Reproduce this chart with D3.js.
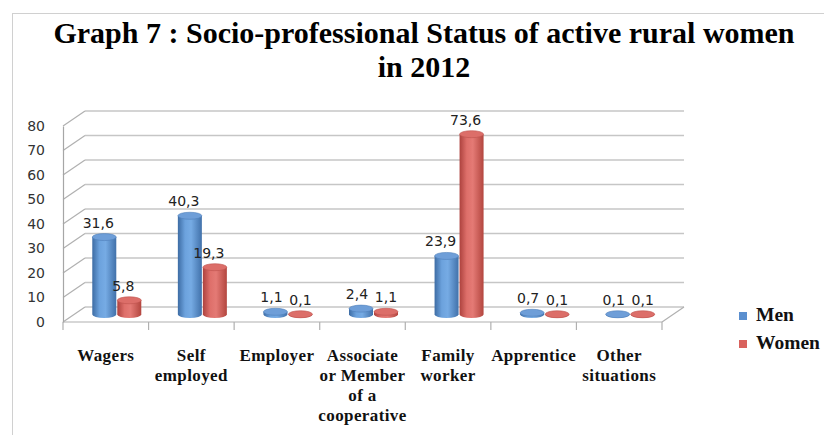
<!DOCTYPE html>
<html>
<head>
<meta charset="utf-8">
<script src="https://cdn.jsdelivr.net/npm/d3@7"></script>
<style>
  body { margin: 0; background: #fff; }
  svg { display: block; }
</style>
</head>
<body>
<svg id="chart" width="824" height="435"></svg>
<script>
(function() {

    // data
    var categories = ["Wagers", "Self\nemployed", "Employer", "Associate\nor Member\nof a\ncooperative",
        "Family\nworker", "Apprentice", "Other\nsituations"];
    var men = [31.6, 40.3, 1.1, 2.4, 23.9, 0.7, 0.1];
    var women = [5.8, 19.3, 0.1, 1.1, 73.6, 0.1, 0.1];
    var seriesNames = ["Men", "Women"];
    var yTicks = [0, 10, 20, 30, 40, 50, 60, 70, 80];

    var svg = d3.select("#chart");

    // outer chart frame
    svg.append("rect")
        .attr("x", 12.5).attr("y", 13.5)
        .attr("width", 830).attr("height", 440)
        .attr("fill", "none")
        .attr("stroke", "#d0d0d0");

    // title
    var title = svg.append("text")
        .attr("text-anchor", "middle")
        .attr("font-family", "Liberation Serif, Times New Roman, serif")
        .attr("font-weight", "bold")
        .attr("font-size", "30px")
        .attr("fill", "#000");
    title.append("tspan").attr("x", 424).attr("y", 43)
        .text("Graph 7 : Socio-professional Status of active rural women");
    title.append("tspan").attr("x", 424).attr("y", 77).text("in 2012");

    // 3d depth offset of back wall
    var dx = 22, dy = -15;

    var x = d3.scaleBand()
        .domain(d3.range(categories.length))
        .range([63, 662]);
    var y = d3.scaleLinear()
        .domain([0, 80])
        .range([322, 126]);

    var grid = svg.append("g");

    // back wall gridlines + left wall diagonals
    yTicks.forEach(function(t) {
        grid.append("line")
            .attr("x1", x.range()[0] + dx).attr("x2", x.range()[1] + dx)
            .attr("y1", y(t) + dy).attr("y2", y(t) + dy)
            .attr("stroke", "#c6c6c6").attr("stroke-width", 1.6);
        grid.append("line")
            .attr("x1", x.range()[0]).attr("x2", x.range()[0] + dx)
            .attr("y1", y(t)).attr("y2", y(t) + dy)
            .attr("stroke", "#b0b0b0").attr("stroke-width", 1.2);
    });

    // floor edges
    grid.append("line")
        .attr("x1", x.range()[0]).attr("x2", x.range()[1])
        .attr("y1", y(0)).attr("y2", y(0))
        .attr("stroke", "#b0b0b0").attr("stroke-width", 1.2);
    grid.append("line")
        .attr("x1", x.range()[1]).attr("x2", x.range()[1] + dx)
        .attr("y1", y(0)).attr("y2", y(0) + dy)
        .attr("stroke", "#b0b0b0").attr("stroke-width", 1.2);

    // y axis
    var yAxis = svg.append("g")
        .attr("transform", "translate(" + x.range()[0] + ",0)")
        .call(d3.axisLeft(y).tickValues(yTicks).tickSize(0).tickPadding(18));
    yAxis.select(".domain").attr("stroke", "#a6a6a6").attr("stroke-width", 1.2);
    yAxis.selectAll("text")
        .attr("font-family", "DejaVu Sans, sans-serif")
        .attr("font-size", "14px")
        .attr("fill", "#333");

    // category ticks under the floor
    var ticks = d3.range(categories.length + 1).map(function(i) {
        return i < categories.length ? x(i) : x.range()[1];
    });
    svg.append("g").selectAll("line")
        .data(ticks)
        .enter()
        .append("line")
        .attr("x1", function(d) { return d; })
        .attr("x2", function(d) { return d; })
        .attr("y1", y(0)).attr("y2", y(0) + 8)
        .attr("stroke", "#b0b0b0").attr("stroke-width", 1.2);

    // gradients for the cylinders
    var defs = svg.append("defs");
    function gradient(id, stops) {
        var g = defs.append("linearGradient").attr("id", id)
            .attr("x1", "0%").attr("x2", "100%").attr("y1", "0%").attr("y2", "0%");
        stops.forEach(function(s) {
            g.append("stop").attr("offset", s[0]).attr("stop-color", s[1]);
        });
    }
    gradient("blueBody", [["0%", "#3d6ca4"], ["30%", "#6ca2dd"], ["55%", "#76abe4"], ["100%", "#4171aa"]]);
    gradient("redBody", [["0%", "#ad423e"], ["30%", "#de6f6a"], ["55%", "#e47a75"], ["100%", "#b3463f"]]);
    var bodyFill = ["url(#blueBody)", "url(#redBody)"];
    var topFill = ["#6e9ed8", "#dc6e69"];
    var topStroke = ["#4f7fba", "#bd534e"];

    var barW = 25, rx = 12, ry = 3.5;
    var bars = [];
    categories.forEach(function(c, i) {
        var mid = x(i) + x.bandwidth() / 2 + dx / 2;
        bars.push({ s: 0, v: men[i], cx: mid - barW / 2 });
        bars.push({ s: 1, v: women[i], cx: mid + barW / 2 });
    });

    var barG = svg.append("g");
    bars.forEach(function(d) {
        var yb = y(0) + dy / 2, yt = y(d.v) + dy / 2;
        barG.append("path")
            .attr("d", "M" + (d.cx - rx) + "," + yt +
                "L" + (d.cx - rx) + "," + yb +
                "A" + rx + "," + ry + " 0 0 0 " + (d.cx + rx) + "," + yb +
                "L" + (d.cx + rx) + "," + yt + "Z")
            .attr("fill", bodyFill[d.s]);
        barG.append("ellipse")
            .attr("cx", d.cx).attr("cy", yt)
            .attr("rx", rx).attr("ry", ry)
            .attr("fill", topFill[d.s])
            .attr("stroke", topStroke[d.s]).attr("stroke-width", 0.6);
        barG.append("text")
            .attr("x", d.cx - (d.v < 3 ? 4 - d.s * 4 : 6))
            .attr("y", yt - 9.5)
            .attr("text-anchor", "middle")
            .attr("font-family", "DejaVu Sans, sans-serif")
            .attr("font-size", "14px")
            .attr("fill", "#222")
            .text(String(d.v).replace(".", ","));
    });

    // category labels
    var catG = svg.append("g");
    categories.forEach(function(c, i) {
        var t = catG.append("text")
            .attr("text-anchor", "middle")
            .attr("font-family", "Liberation Serif, Times New Roman, serif")
            .attr("font-weight", "bold")
            .attr("font-size", "17px")
            .attr("letter-spacing", "0.4px")
            .attr("fill", "#111");
        c.split("\n").forEach(function(line, j) {
            t.append("tspan")
                .attr("x", x(i) + x.bandwidth() / 2)
                .attr("y", 361 + j * 20)
                .text(line);
        });
    });

    // legend
    var colors = ["#5b8fcf", "#d9625d"];
    var legend = svg.append("g");
    seriesNames.forEach(function(name, i) {
        legend.append("rect")
            .attr("x", 739).attr("y", 312 + i * 28)
            .attr("width", 8).attr("height", 8)
            .attr("fill", colors[i]);
        legend.append("text")
            .attr("x", 756).attr("y", 321 + i * 28)
            .attr("font-family", "Liberation Serif, Times New Roman, serif")
            .attr("font-weight", "bold")
            .attr("font-size", "19.5px")
            .attr("fill", "#111")
            .text(name);
    });

})();
</script>
</body>
</html>
